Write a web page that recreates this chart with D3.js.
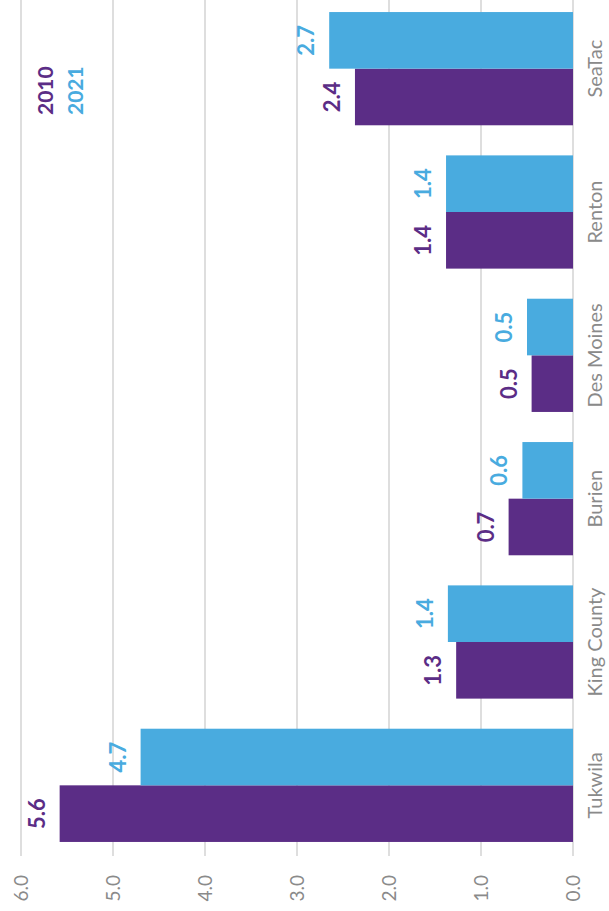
<!DOCTYPE html>
<html>
<head>
<meta charset="utf-8">
<script src="https://cdn.jsdelivr.net/npm/d3@7"></script>
<style>
  body { margin: 0; background: #fff; }
  svg { display: block; font-family: Lato, "Open Sans", sans-serif; }
</style>
</head>
<body>
<div id="chart"></div>
<script>
// chart is drawn upright, then turned a quarter turn counter-clockwise

var W = 609,
    H = 911;

var cities = ["Tukwila", "King County", "Burien", "Des Moines", "Renton", "SeaTac"];
var series = ["2010", "2021"];
var values2010 = [5.58, 1.27, 0.70, 0.45, 1.38, 2.37];
var values2021 = [4.70, 1.36, 0.55, 0.50, 1.38, 2.65];
var labels2010 = ["5.6", "1.3", "0.7", "0.5", "1.4", "2.4"];
var labels2021 = ["4.7", "1.4", "0.6", "0.5", "1.4", "2.7"];
var ticks = [0, 1, 2, 3, 4, 5, 6];

var colors = { "2010": "#5b2d86", "2021": "#49abdf" };

var rows = cities.map(function (c, i) {
    return {
        city: c,
        bars: [
            { key: "2010", value: values2010[i], label: labels2010[i] },
            { key: "2021", value: values2021[i], label: labels2021[i] }
        ]
    };
});

var svg = d3.select("#chart").append("svg")
    .attr("width", W)
    .attr("height", H);

// upright frame: width H, height W
var g = svg.append("g")
    .attr("transform", "translate(0," + H + ") rotate(-90)");

var x0 = d3.scaleBand()
    .domain(cities)
    .range([54, 914])
    .paddingInner(0.21)
    .paddingOuter(0.105);

var x1 = d3.scaleBand()
    .domain(series)
    .range([0, x0.bandwidth()]);

var y = d3.scaleLinear()
    .domain([0, 6])
    .range([573, 21]);

// gridlines
g.selectAll(".grid")
    .data(ticks)
    .enter()
    .append("line")
    .attr("class", "grid")
    .attr("x1", 55)
    .attr("x2", H + 10)
    .attr("y1", function (d) { return y(d); })
    .attr("y2", function (d) { return y(d); })
    .style("stroke", "#d3d3d3")
    .style("stroke-width", 1.5);

// value tick labels
g.selectAll(".tick-label")
    .data(ticks)
    .enter()
    .append("text")
    .attr("class", "tick-label")
    .attr("x", 36)
    .attr("y", function (d) { return y(d); })
    .attr("dy", "0.35em")
    .attr("text-anchor", "end")
    .style("font-size", "19px")
    .style("fill", "#8a8a8a")
    .text(function (d) { return d3.format(".1f")(d); });

// bars
var group = g.selectAll(".city")
    .data(rows)
    .enter()
    .append("g")
    .attr("class", "city")
    .attr("transform", function (d) { return "translate(" + x0(d.city) + ",0)"; });

group.selectAll("rect")
    .data(function (d) { return d.bars; })
    .enter()
    .append("rect")
    .attr("x", function (d) { return x1(d.key); })
    .attr("width", x1.bandwidth())
    .attr("y", function (d) { return y(d.value); })
    .attr("height", function (d) { return y(0) - y(d.value); })
    .attr("fill", function (d) { return colors[d.key]; });

group.selectAll(".val")
    .data(function (d) { return d.bars; })
    .enter()
    .append("text")
    .attr("class", "val")
    .attr("x", function (d) { return x1(d.key) + x1.bandwidth() / 2; })
    .attr("y", function (d) { return y(d.value) - 15; })
    .attr("text-anchor", "middle")
    .style("font-size", "22px")
    .style("font-weight", "bold")
    .style("fill", function (d) { return colors[d.key]; })
    .text(function (d) { return d.label; });

// category labels
g.selectAll(".cat")
    .data(cities)
    .enter()
    .append("text")
    .attr("class", "cat")
    .attr("x", function (d) { return x0(d) + x0.bandwidth() / 2; })
    .attr("y", 602)
    .attr("text-anchor", "middle")
    .style("font-size", "20px")
    .style("fill", "#8a8a8a")
    .text(function (d) { return d; });

// legend
g.selectAll(".legend")
    .data(series)
    .enter()
    .append("text")
    .attr("class", "legend")
    .attr("x", 796)
    .attr("y", function (d, i) { return 53 + i * 30; })
    .style("font-size", "21px")
    .style("font-weight", "bold")
    .style("fill", function (d) { return colors[d]; })
    .text(function (d) { return d; });
</script>
</body>
</html>
